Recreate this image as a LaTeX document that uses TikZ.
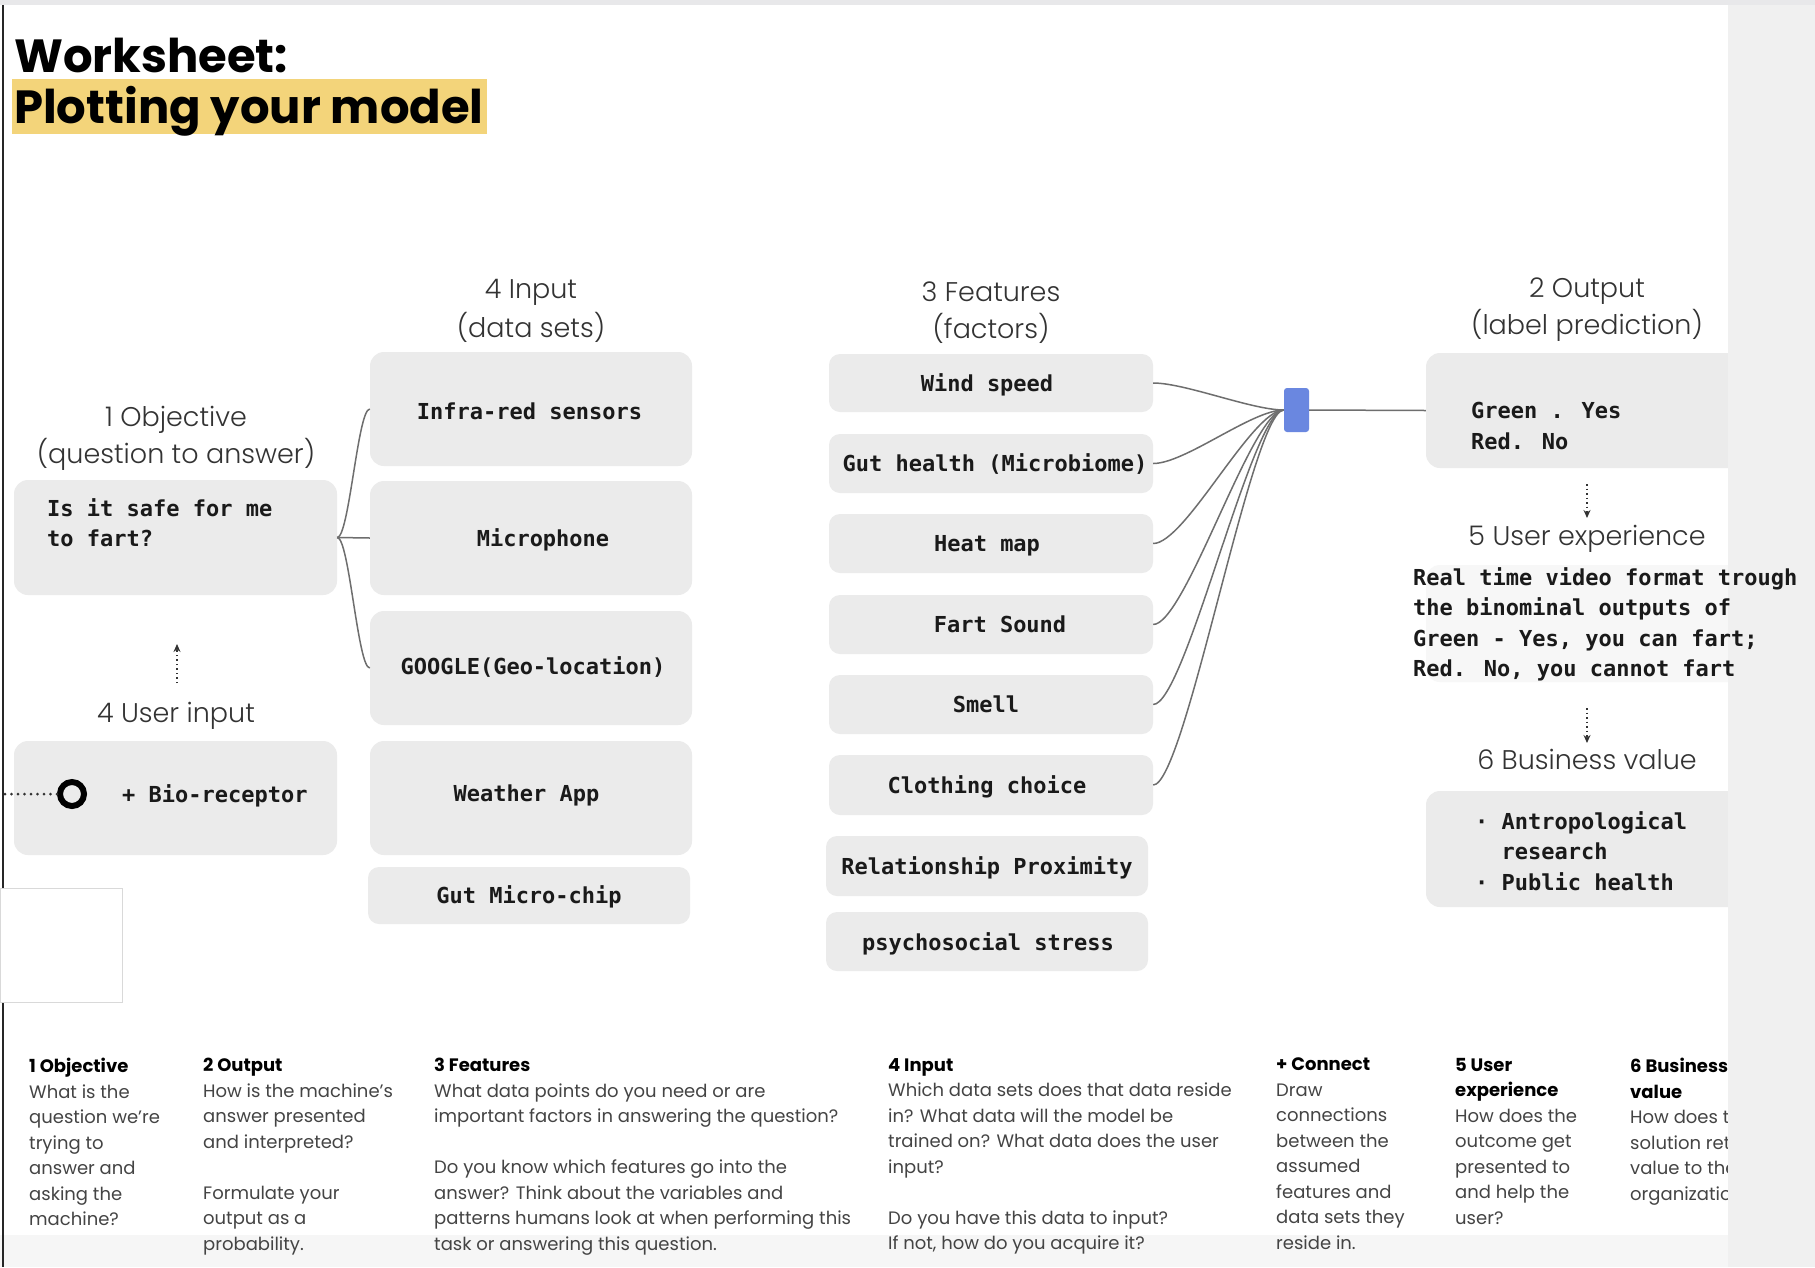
\documentclass[tikz,border=0pt]{standalone}
\usepackage{fontspec}
\setmainfont{Poppins}
\IfFontExistsTF{Poppins Light}{\newfontfamily\headfont{Poppins Light}}{\newfontfamily\headfont{Poppins}}
\newfontfamily\titlefont{Poppins}
\newfontfamily\codefont{DejaVu Sans Mono}
\usetikzlibrary{arrows.meta}

\definecolor{cardgray}{HTML}{EBEBEB}
\definecolor{panelgray}{HTML}{F0F0F0}
\definecolor{stripgray}{HTML}{E8E8EA}
\definecolor{bandgray}{HTML}{F6F6F6}
\definecolor{inkgray}{HTML}{333333}
\definecolor{notegray}{HTML}{444444}
\definecolor{wiregray}{HTML}{6E6E6E}
\definecolor{modelblue}{HTML}{6A87E0}
\definecolor{marker}{HTML}{F3D47A}
\definecolor{codeink}{HTML}{1A1A1A}

\begin{document}
\begin{tikzpicture}[x=1pt,y=-1pt,
  card/.style={fill=cardgray, rounded corners=14pt, inner sep=0pt, draw=none},
  chip/.style={fill=cardgray, rounded corners=11pt, inner sep=0pt, draw=none},
  code/.style={font=\codefont\bfseries\fontsize{22}{30.5}\selectfont, text=codeink, inner sep=0pt},
  head/.style={font=\headfont\fontsize{27}{32}\selectfont, text=inkgray, inner sep=0pt, anchor=base},
  note/.style={font=\fontsize{18}{25.5}\selectfont, text=notegray, inner sep=0pt, anchor=north west, align=left},
  wire/.style={draw=wiregray, line width=1.5pt},
  hint/.style={draw=inkgray, line width=1.4pt, dash pattern=on 1.5pt off 3pt,
               -{Stealth[length=8pt,width=7pt]}},
]
% page
\fill[white] (0,0) rectangle (1815,1267);
\useasboundingbox (0,0) rectangle (1815,1267);
\fill[bandgray] (0,1235) rectangle (1728,1267);

% title
\fill[marker] (12,79) rectangle (487,134);
\node[anchor=base west, inner sep=0pt, font=\titlefont\bfseries\fontsize{46.5}{48}\selectfont] (ttl1) at (14,72) {Worksheet:};
\node[anchor=base west, inner sep=0pt, font=\titlefont\bfseries\fontsize{46.5}{48}\selectfont] (ttl2) at (14,123) {Plotting your model};

% column headings
\node[head] (hObjA) at (176,426) {1 Objective};
\node[head] (hObjB) at (176,463) {(question to answer)};
\node[head] (hInA) at (531,298) {4 Input};
\node[head] (hInB) at (531,337) {(data sets)};
\node[head] (hFeA) at (991,301) {3 Features};
\node[head] (hFeB) at (991,338) {(factors)};
\node[head] (hOutA) at (1587,297) {2 Output};
\node[head] (hOutB) at (1587,334) {(label prediction)};
\node[head] (hUser) at (176,722) {4 User input};
\node[head] (hUX) at (1587,545) {5 User experience};
\node[head] (hBV) at (1587,769) {6 Business value};

% objective and user input
\node[card, minimum width=323pt, minimum height=115pt] (obj) at (175.5,537.5) {};
\node[code, anchor=north west, align=left] (objtxt) at (47,498) {Is it safe for me\\to fart?};
\node[card, minimum width=323pt, minimum height=114pt] (user) at (175.5,798) {};
\node[circle, draw=black, line width=6pt, minimum size=24pt, inner sep=0pt] (ring) at (72,794) {};
\coordinate (leadend) at (4,794);
\draw[line width=3pt, dash pattern=on 0pt off 6.5pt, line cap=round, draw=inkgray] (ring.west) -- (leadend);
\node[code, anchor=base west] (usertxt) at (122,802) {+ Bio-receptor};

% input data sets
\node[card, minimum width=322pt, minimum height=114pt] (infra) at (531,409) {};
\node[card, minimum width=322pt, minimum height=114pt] (micro) at (531,538) {};
\node[card, minimum width=322pt, minimum height=114pt] (geo) at (531,668) {};
\node[card, minimum width=322pt, minimum height=114pt] (weather) at (531,798) {};
\node[chip, minimum width=322pt, minimum height=57pt] (gutchip) at (529,895.5) {};
\node[code, anchor=base] (infratxt) at (529.5,419) {Infra-red sensors};
\node[code, anchor=base] (microtxt) at (543,546) {Microphone};
\node[code, anchor=base] (geotxt) at (533,674) {GOOGLE(Geo-location)};
\node[code, anchor=base] (weathertxt) at (526.5,801) {Weather App};
\node[code, anchor=base] (gutchiptxt) at (529,903) {Gut Micro-chip};

\draw[wire] (obj.east) .. controls +(12,0) and +(-12,0) .. (infra.west);
\draw[wire] (obj.east) -- (micro.west);
\draw[wire] (obj.east) .. controls +(12,0) and +(-12,0) .. (geo.west);

% features
\node[chip, minimum width=324pt, minimum height=58pt] (wind) at (991,383) {};
\node[chip, minimum width=324pt, minimum height=59pt] (gut) at (991,463.5) {};
\node[chip, minimum width=324pt, minimum height=59pt] (heat) at (991,543.5) {};
\node[chip, minimum width=324pt, minimum height=59pt] (sound) at (991,624.5) {};
\node[chip, minimum width=324pt, minimum height=59pt] (smell) at (991,704.5) {};
\node[chip, minimum width=324pt, minimum height=60pt] (cloth) at (991,785) {};
\node[chip, minimum width=322pt, minimum height=60pt] (rel) at (987,866) {};
\node[chip, minimum width=322pt, minimum height=59pt] (stress) at (987,941.5) {};
\node[code, anchor=base] (windtxt) at (987,391) {Wind speed};
\node[code, anchor=base] (guttxt) at (995,471) {Gut health (Microbiome)};
\node[code, anchor=base] (heattxt) at (987,551) {Heat map};
\node[code, anchor=base] (soundtxt) at (1000,632) {Fart Sound};
\node[code, anchor=base] (smelltxt) at (986,712) {Smell};
\node[code, anchor=base] (clothtxt) at (987,793) {Clothing choice};
\node[code, anchor=base] (reltxt) at (987,874) {Relationship Proximity};
\node[code, anchor=base] (stresstxt) at (988,950) {psychosocial stress};

% model joint
\node[fill=modelblue, rounded corners=3pt, minimum width=25pt, minimum height=44pt, inner sep=0pt] (blue) at (1296.5,410) {};
\foreach \f in {wind,gut,heat,sound,smell,cloth}
  \draw[wire] (\f.east) .. controls +(32,0) and +(-32,0) .. (blue.west);

% output, experience, value
\node[card, minimum width=380pt, minimum height=115pt] (out) at (1616,410.5) {};
\node[code, anchor=north west, align=left] (outtxt) at (1471,402) {Green . Yes\\Red. No};
\draw[wire] (blue.east) -- (out.west);
\node[card, fill=cardgray!40, minimum width=380pt, minimum height=117pt] (uxcard) at (1616,623.5) {};
\node[card, minimum width=380pt, minimum height=116pt] (bv) at (1616,849) {};
\node[code, anchor=north west, align=left] (bvtxt) at (1475,811) {·\ Antropological\\\phantom{·\ }research\\·\ Public health};

\coordinate (a1s) at (1587,484);
\coordinate (a1e) at (1587,518);
\coordinate (a2s) at (1587,708);
\coordinate (a2e) at (1587,743);
\coordinate (a3s) at (177,683);
\coordinate (a3e) at (177,644);
\draw[hint] (a1s) -- (a1e);
\draw[hint] (a2s) -- (a2e);
\draw[hint] (a3s) -- (a3e);

% guide notes
\node[note] (n1) at (29,1058) {\textbf{\color{black}1 Objective}\\What is the\\question we’re\\trying to\\answer and\\asking the\\machine?};
\node[note] (n2) at (203,1058) {\textbf{\color{black}2 Output}\\How is the machine’s\\answer presented\\and interpreted?\\[25.5pt]Formulate your\\output as a\\probability.};
\node[note] (n3) at (434,1058) {\textbf{\color{black}3 Features}\\What data points do you need or are\\important factors in answering the question?\\[25.5pt]Do you know which features go into the\\answer? Think about the variables and\\patterns humans look at when performing this\\task or answering this question.};
\node[note] (n4) at (888,1058) {\textbf{\color{black}4 Input}\\Which data sets does that data reside\\in? What data will the model be\\trained on? What data does the user\\input?\\[25.5pt]Do you have this data to input?\\If not, how do you acquire it?};
\node[note] (n5) at (1276,1058) {\textbf{\color{black}+ Connect}\\Draw\\connections\\between the\\assumed\\features and\\data sets they\\reside in.};
\node[note] (n6) at (1455,1058) {\textbf{\color{black}5 User}\\\textbf{\color{black}experience}\\How does the\\outcome get\\presented to\\and help the\\user?};
\node[note] (n7) at (1630,1058) {\textbf{\color{black}6 Business}\\\textbf{\color{black}value}\\How does the\\solution return\\value to the\\organization?};

% side panel and top strip
\fill[panelgray] (1728,0) rectangle (1815,1267);
\fill[stripgray] (0,0) rectangle (1815,5);

% experience text runs over the side panel
\node[code, anchor=north west, align=left] (uxtxt) at (1413,567) {Real time video format trough\\the binominal outputs of\\Green - Yes, you can fart;\\Red. No, you cannot fart};

% left rule and blank frame
\draw[line width=2pt, draw=black!85] (2.5,5) -- (2.5,1267);
\draw[draw=black!15, fill=white, line width=1pt] (0,888) rectangle (122,1002);
\end{tikzpicture}
\end{document}
